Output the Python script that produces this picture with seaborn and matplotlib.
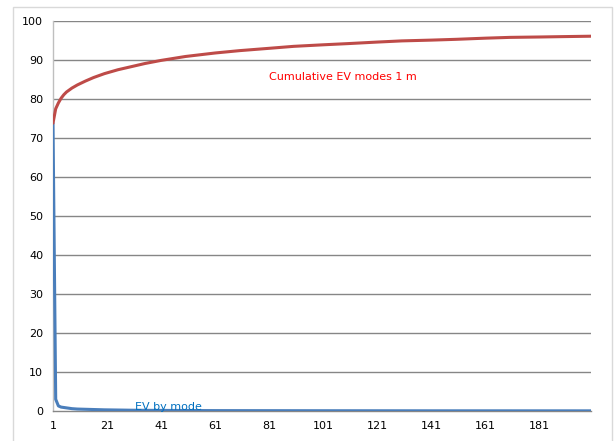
import matplotlib
matplotlib.use("Agg")
import matplotlib.pyplot as plt
import seaborn as sns
import pandas as pd
from matplotlib.patches import Rectangle

sns.set_theme(style="white")
plt.rcParams['font.family'] = ['DejaVu Sans']

# Cumulative explained variance (read at sampled modes)
cum_modes = [1, 2, 3, 4, 5, 6, 8, 10, 13, 16, 20, 25, 30, 35, 41, 50, 61, 70, 81, 90,
             101, 110, 121, 130, 141, 150, 161, 170, 181, 190, 200]
cum_values = [73.8, 77.5, 79.0, 80.2, 81.1, 81.8, 82.8, 83.6, 84.6, 85.5, 86.5, 87.5, 88.3,
              89.1, 89.9, 90.9, 91.8, 92.4, 93.0, 93.5, 93.9, 94.2, 94.6, 94.9, 95.1,
              95.3, 95.6, 95.8, 95.9, 96.0, 96.1]

# EV by mode
ev_modes = [1, 2, 3, 4, 5, 6, 8, 10, 15, 20, 30, 41, 61, 101, 141, 200]
ev_values = [73.8, 3.0, 1.3, 1.0, 0.9, 0.8, 0.6, 0.5, 0.4, 0.3, 0.2, 0.15, 0.1, 0.07, 0.05, 0.04]

x_ticks = [1, 21, 41, 61, 81, 101, 121, 141, 161, 181]
y_ticks = [0, 10, 20, 30, 40, 50, 60, 70, 80, 90, 100]

df_cum = pd.DataFrame({"mode": cum_modes, "value": cum_values})
df_ev = pd.DataFrame({"mode": ev_modes, "value": ev_values})

fig = plt.figure(figsize=(6.15, 4.41), dpi=100)
ax = fig.add_axes([53/615, 1-411/441, (591-53)/615, (411-21)/441])

# outer chart border
fig.patches.append(Rectangle((13/615, -0.05), (612-13)/615, 1.05 - 7/441,
                             transform=fig.transFigure, fill=False,
                             edgecolor="#d9d9d9", linewidth=1.0))

for y in y_ticks[1:]:
    ax.axhline(y, color="#868686", linewidth=1.0, zorder=0)

sns.lineplot(data=df_ev, x="mode", y="value", ax=ax, color="#4a7ebb", linewidth=2.2, zorder=3)
sns.lineplot(data=df_cum, x="mode", y="value", ax=ax, color="#be4b48", linewidth=2.2, zorder=4)

ax.set_xlim(1, 200)
ax.set_ylim(0, 100)
ax.set_xticks(x_ticks)
ax.set_yticks(y_ticks)
ax.set_xlabel("")
ax.set_ylabel("")
ax.tick_params(axis="both", labelsize=8, colors="#000000", length=4, width=1,
               direction="out", pad=3)
ax.tick_params(axis="x", color="#bfbfbf")
ax.tick_params(axis="y", color="#868686")
for side in ["top", "right"]:
    ax.spines[side].set_visible(False)
ax.spines["left"].set_color("#bfbfbf")
ax.spines["bottom"].set_color("#868686")
ax.spines["left"].set_linewidth(1)
ax.spines["bottom"].set_linewidth(1)

ax.text(81, 85.6, "Cumulative EV modes 1 m", color="#ff0000", fontsize=8, va="center", ha="left")
ax.text(31.5, 0.9, "EV by mode", color="#0070c0", fontsize=8, va="center", ha="left", zorder=5)

fig.savefig("out.png", dpi=100)
